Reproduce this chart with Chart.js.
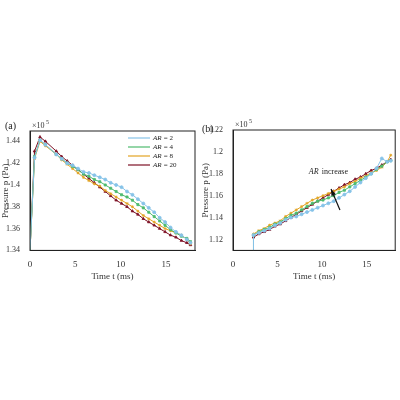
<!DOCTYPE html><html><head><script src="https://cdn.jsdelivr.net/npm/chart.js"></script>
<style>body{margin:0;background:#fff}.w{position:absolute;width:200px;height:200px}</style></head><body>
<div class="w" style="left:0;top:100px"><canvas id="a"></canvas></div>
<div class="w" style="left:200px;top:100px"><canvas id="b"></canvas></div>
<script>
const labels=["AR = 2","AR = 4","AR = 8","AR = 20"];
const colors=["#86c3e8","#4dbb6e","#e2a323","#7d1024"];
const markers=["circle","rect","star","triangle"];
const tA=[0.0,0.5,1.1,1.7,2.9,3.5,4.1,4.7,5.3,5.9,6.5,7.1,7.7,8.3,8.9,9.5,10.1,10.7,11.3,11.9,12.5,13.1,13.7,14.3,14.9,15.5,16.1,16.7,17.3,17.7];
const a2=[1.34,1.425,1.441,1.437,1.428,1.424,1.420,1.418,1.415,1.412,1.411,1.409,1.407,1.405,1.402,1.400,1.398,1.394,1.391,1.387,1.383,1.379,1.375,1.370,1.366,1.361,1.357,1.354,1.350,1.347];
const a4=[1.34,1.426,1.441,1.437,1.428,1.424,1.420,1.417,1.414,1.410,1.408,1.405,1.403,1.400,1.397,1.394,1.391,1.389,1.386,1.382,1.379,1.375,1.371,1.367,1.363,1.359,1.356,1.353,1.351,1.348];
const a8=[1.34,1.424,1.440,1.436,1.428,1.423,1.419,1.415,1.411,1.407,1.404,1.401,1.399,1.395,1.392,1.389,1.386,1.383,1.380,1.376,1.372,1.369,1.366,1.363,1.360,1.358,1.356,1.354,1.350,1.346];
const a20=[1.34,1.431,1.444,1.440,1.431,1.426,1.422,1.418,1.414,1.410,1.406,1.402,1.398,1.394,1.390,1.386,1.383,1.380,1.376,1.373,1.369,1.366,1.363,1.360,1.357,1.354,1.352,1.349,1.347,1.345];
const tB=[2.3,2.3,2.9,3.5,4.1,4.7,5.3,5.9,6.5,7.1,7.7,8.3,8.9,9.5,10.1,10.7,11.3,11.9,12.5,13.1,13.7,14.3,14.9,15.5,16.1,16.7,17.3,17.7];
const b2=[1.11,1.124,1.126,1.128,1.130,1.133,1.135,1.138,1.140,1.141,1.143,1.145,1.147,1.149,1.151,1.153,1.155,1.158,1.161,1.164,1.168,1.172,1.176,1.180,1.185,1.194,1.191,1.192];
const b4=[1.11,1.124,1.127,1.129,1.131,1.134,1.136,1.139,1.142,1.144,1.147,1.150,1.153,1.155,1.156,1.158,1.160,1.163,1.165,1.168,1.171,1.174,1.177,1.180,1.184,1.187,1.191,1.192];
const b8=[1.11,1.125,1.128,1.130,1.133,1.135,1.137,1.141,1.144,1.147,1.150,1.153,1.156,1.158,1.160,1.162,1.164,1.166,1.168,1.171,1.173,1.176,1.178,1.181,1.183,1.186,1.191,1.197];
const b20=[1.11,1.122,1.125,1.127,1.129,1.132,1.134,1.137,1.140,1.143,1.146,1.149,1.152,1.155,1.158,1.161,1.164,1.167,1.170,1.172,1.175,1.177,1.180,1.183,1.185,1.188,1.191,1.193];
const F="'Liberation Serif', serif";
function ds(t,arrs){return arrs.map((v,i)=>({label:labels[i],data:v.map((y,j)=>({x:t[j],y})),borderColor:colors[i],backgroundColor:colors[i],borderWidth:1,pointStyle:markers[i],pointRadius:v.map((_,j)=>j===0?0:1.5),pointBorderWidth:0.8}));}
function sup(ctx,x,y){ctx.font="8px "+F;ctx.fillStyle="#333";ctx.textAlign="left";ctx.textBaseline="alphabetic";ctx.fillText("×10",x,y);ctx.font="6px "+F;ctx.fillText("5",x+14,y-4);}
function mk(id,t,arrs,ymin,ymax,yw,pad,extra){
 new Chart(document.getElementById(id),{type:'line',data:{datasets:ds(t,arrs)},
 options:{animation:false,responsive:true,maintainAspectRatio:false,layout:{padding:pad},
 plugins:{legend:{display:false},tooltip:{enabled:false}},
 scales:{x:{type:'linear',min:0,max:18.2,grid:{display:false},border:{color:'#222'},ticks:{stepSize:5,includeBounds:false,color:'#333',font:{family:F,size:9},padding:1},title:{display:true,text:'Time t (ms)',color:'#333',font:{family:F,size:9},padding:0}},
 y:{min:ymin,max:ymax,grid:{display:false},border:{color:'#222'},afterFit:s=>{s.width=yw},ticks:{stepSize:0.02,includeBounds:false,color:'#333',font:{family:F,size:8},padding:2,callback:v=>String(+v.toFixed(2))},title:{display:true,text:'Pressure p (Pa)',color:'#333',font:{family:F,size:9},padding:0}}}},
 plugins:[{id:'x',afterDraw(c){const ctx=c.ctx,a=c.chartArea;ctx.save();ctx.strokeStyle='#222';ctx.lineWidth=1;ctx.strokeRect(a.left,a.top,a.right-a.left,a.bottom-a.top);sup(ctx,a.left+2,a.top-3);extra(c,ctx,a);ctx.restore();}}]});}
mk('a',tA,[a2,a4,a8,a20],1.34,1.4495,30,{top:31,right:5,bottom:18},(c,ctx,a)=>{
 ctx.font="10px "+F;ctx.fillStyle="#222";ctx.textAlign="left";ctx.fillText("(a)",5,a.top-2);
 labels.forEach((l,i)=>{const y=38+i*9;ctx.strokeStyle=colors[i];ctx.lineWidth=1.2;ctx.beginPath();ctx.moveTo(128,y);ctx.lineTo(150,y);ctx.stroke();
  ctx.fillStyle="#222";ctx.font="italic 7px "+F;ctx.textBaseline="middle";ctx.fillText("AR",153,y);ctx.font="7px "+F;ctx.fillText(" = "+l.split("= ")[1],162,y);});
});
mk('b',tB,[b2,b4,b8,b20],1.11,1.22,33,{top:30,right:1,bottom:18},(c,ctx,a)=>{
 ctx.font="10px "+F;ctx.fillStyle="#222";ctx.textAlign="left";ctx.textBaseline="alphabetic";ctx.fillText("(b)",2,a.top+2);
 const x=c.scales.x,y=c.scales.y;ctx.font="italic 8px "+F;ctx.fillText("AR",x.getPixelForValue(8.5),y.getPixelForValue(1.18));
 ctx.font="8px "+F;ctx.fillText(" increase",x.getPixelForValue(8.5)+11,y.getPixelForValue(1.18));
 const x1=x.getPixelForValue(12),y1=y.getPixelForValue(1.147),x2=x.getPixelForValue(11),y2=y.getPixelForValue(1.166);
 ctx.strokeStyle="#111";ctx.lineWidth=1.2;ctx.beginPath();ctx.moveTo(x1,y1);ctx.lineTo(x2,y2);ctx.stroke();
 const an=Math.atan2(y2-y1,x2-x1);ctx.fillStyle="#111";ctx.beginPath();ctx.moveTo(x2,y2);ctx.lineTo(x2-7*Math.cos(an-0.35),y2-7*Math.sin(an-0.35));ctx.lineTo(x2-7*Math.cos(an+0.35),y2-7*Math.sin(an+0.35));ctx.fill();
});
</script></body></html>
